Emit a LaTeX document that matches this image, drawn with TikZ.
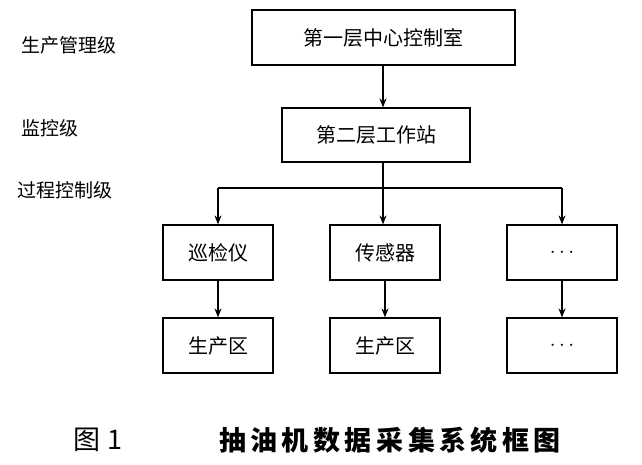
\documentclass[tikz,border=0pt]{standalone}
\usepackage{fontspec}
\usetikzlibrary{arrows.meta}
\setmainfont{Liberation Serif}
\newfontfamily\cjk{Noto Sans CJK SC}
\begin{document}
\begin{tikzpicture}[x=1pt,y=-1pt,
  box/.style={draw,line width=1.2pt,minimum width=110pt,minimum height=55pt,font=\cjk\fontsize{20}{20}\selectfont,inner sep=0pt},
  lab/.style={anchor=west,font=\cjk\fontsize{19}{19}\selectfont},
  arr/.style={line width=1.2pt,-{Stealth[length=9pt,width=7pt]}}]
\useasboundingbox (0,0) rectangle (642,464);
\node[box,minimum width=263pt] (a) at (383.5,37.5) {第一层中心控制室};
\node[box,minimum width=188pt,minimum height=54pt] (b) at (376,135) {第二层工作站};
\node[box] (c1) at (218,252.5) {巡检仪};
\node[box] (c2) at (385,252.5) {传感器};
\node[box] (c3) at (562,252.5) {$\cdots$};
\node[box] (d1) at (218,345.5) {生产区};
\node[box] (d2) at (385,345.5) {生产区};
\node[box] (d3) at (562,345.5) {$\cdots$};
\node[lab] (l1) at (18,45) {生产管理级};
\node[lab] (l2) at (18,128) {监控级};
\node[lab] (l3) at (14,190) {过程控制级};
\node[font=\cjk\fontsize{27}{27}\selectfont] (cap1) at (98,440) {图 1};
\node[font=\cjk\bfseries\fontsize{27}{27}\selectfont] (cap) at (390,440) {抽\,油\,机\,数\,据\,采\,集\,系\,统\,框\,图};
\draw[arr] (a.south -| 383,0) -- (b.north -| 383,0);
\coordinate (j) at (383,188);
\draw[line width=1.2pt] (b.south -| j) -- (j);
\draw[line width=1.2pt] (c1.north |- j) -- (c3.north |- j);
\draw[arr] (c1.north |- j) -- (c1.north);
\draw[arr] (j) -- (c2.north -| j);
\draw[arr] (c3.north |- j) -- (c3.north);
\draw[arr] (c1) -- (d1);
\draw[arr] (c2) -- (d2);
\draw[arr] (c3) -- (d3);
\end{tikzpicture}
\end{document}
